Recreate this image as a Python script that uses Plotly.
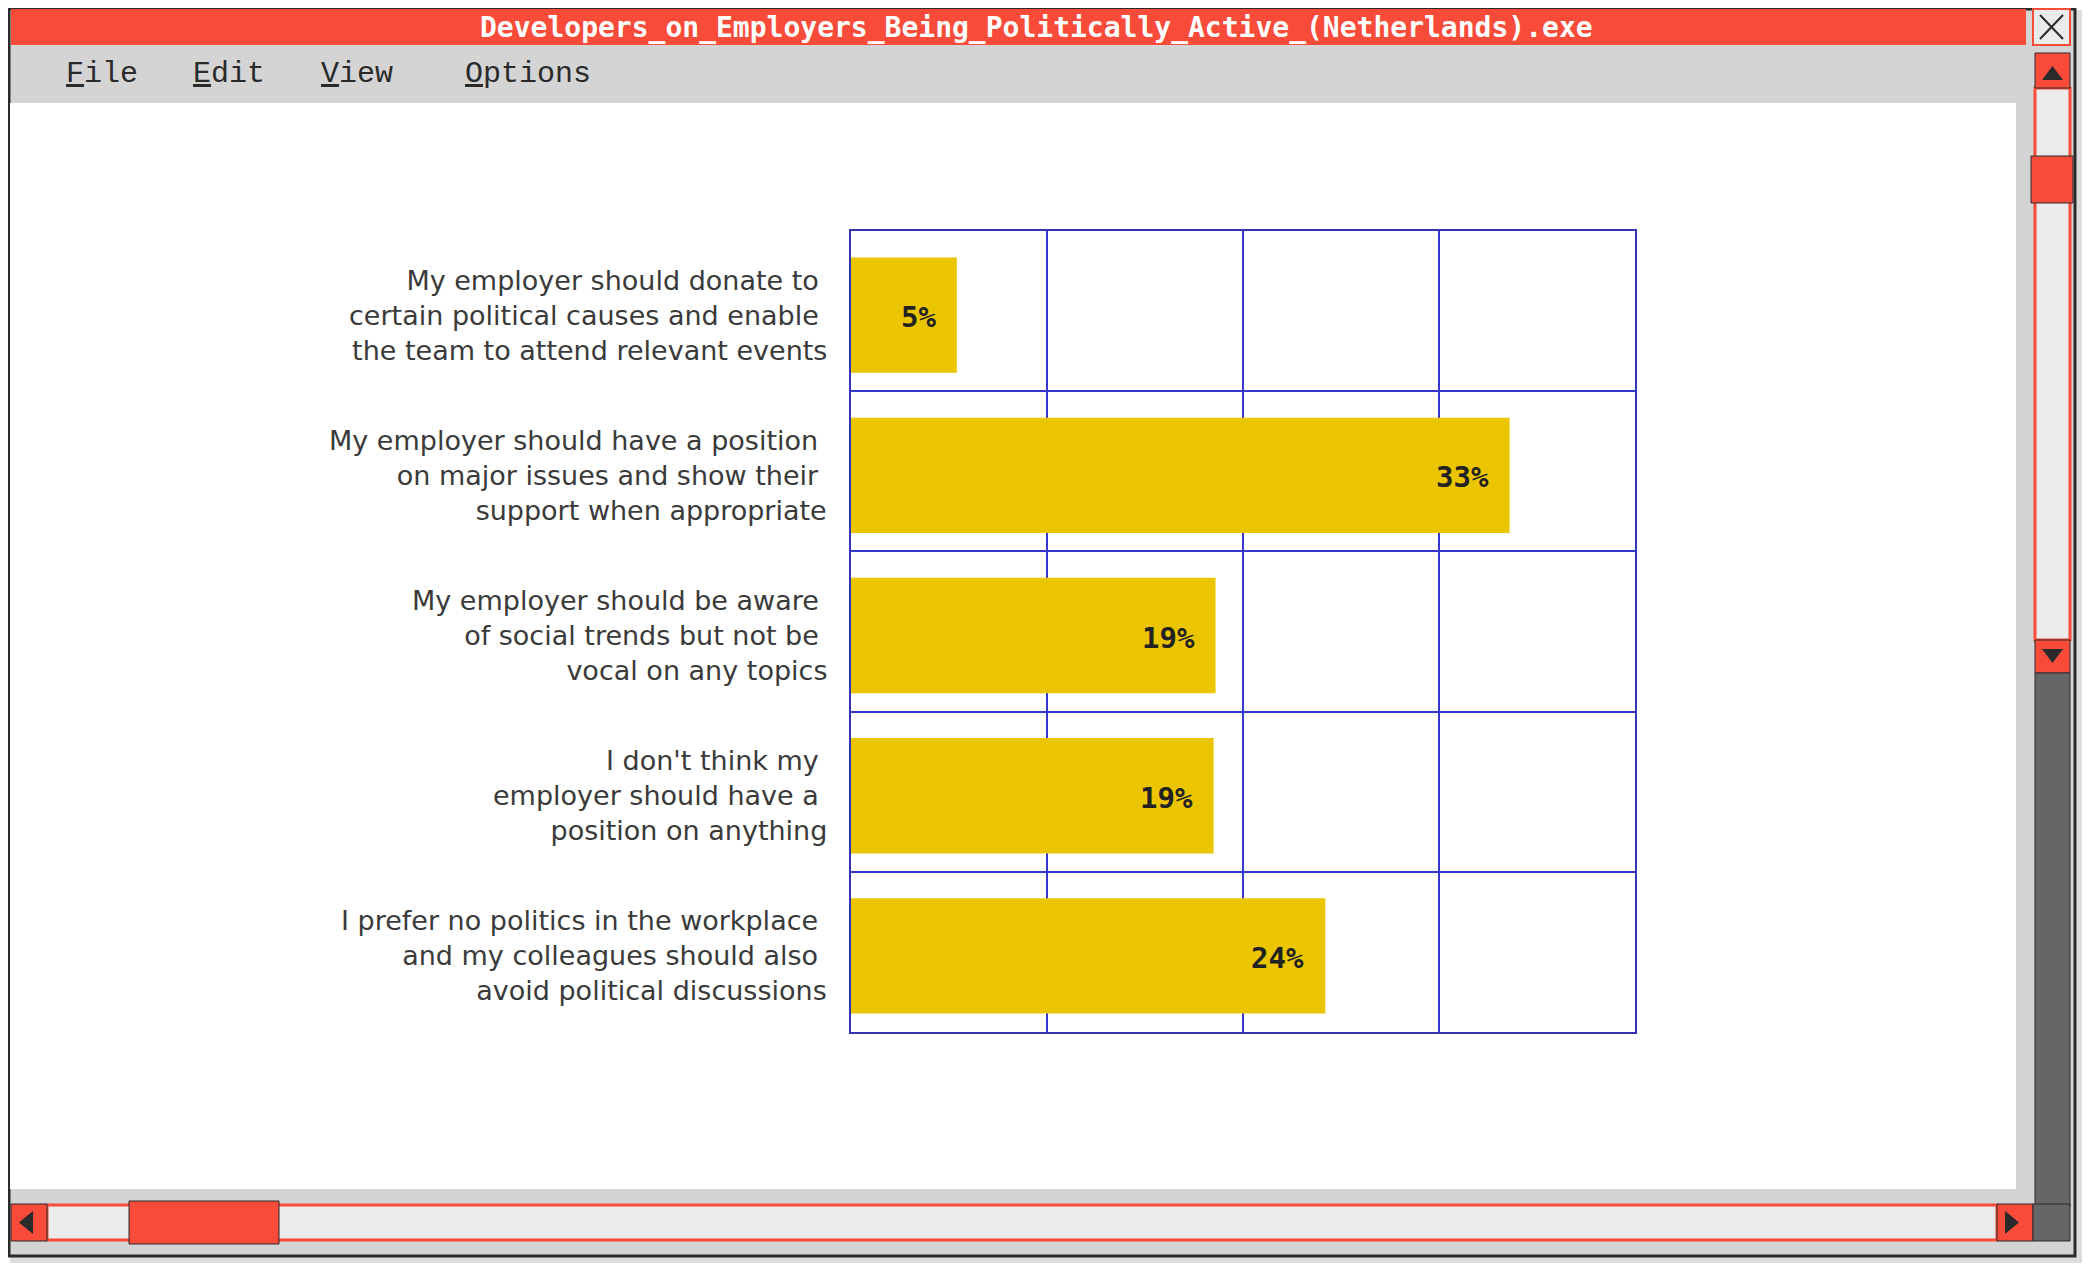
import plotly.graph_objects as go

W, H = 2090, 1265
OFF = 8  # the page body adds an 8px margin, shift everything back by it

# survey answers, top to bottom
answers = [
    'My employer should donate to <br>certain political causes and enable <br>the team to attend relevant events',
    'My employer should have a position <br>on major issues and show their <br>support when appropriate',
    'My employer should be aware <br>of social trends but not be <br>vocal on any topics',
    "I don't think my <br>employer should have a <br>position on anything",
    'I prefer no politics in the workplace <br>and my colleagues should also <br>avoid political discussions',
]
shares = [5.4, 33.6, 18.6, 18.5, 24.2]
share_labels = ['5%', '33%', '19%', '19%', '24%']

window_title = 'Developers_on_Employers_Being_Politically_Active_(Netherlands).exe'
menu_items = ['File', 'Edit', 'View', 'Options']
menu_x = [64, 191, 319, 463]

RED = '#F84B3A'
DARK = '#2a2a2a'
BLUE = '#3636CF'


def px(x, y):
    return (x - OFF) / W, 1 - (y - OFF) / H


def rect(x0, y0, x1, y1, fill, line=None, width=1, layer='above'):
    a, b = px(x0, y1)
    c, d = px(x1, y0)
    return dict(type='rect', xref='paper', yref='paper', x0=a, y0=b, x1=c, y1=d,
                fillcolor=fill, layer=layer,
                line=dict(color=line or fill, width=width if line else 0))


def tri(pts, fill=DARK):
    path = 'M ' + ' L '.join('%f,%f' % px(x, y) for x, y in pts) + ' Z'
    return dict(type='path', xref='paper', yref='paper', path=path,
                fillcolor=fill, line=dict(width=0), layer='above')


def seg(x0, y0, x1, y1, color=DARK, width=2):
    a, b = px(x0, y0)
    c, d = px(x1, y1)
    return dict(type='line', xref='paper', yref='paper', x0=a, y0=b, x1=c, y1=d,
                line=dict(color=color, width=width), layer='above')


shapes = [
    # window body
    rect(10, 10, 2084, 1263, '#DCDCDC', layer='below'),
    rect(9, 9, 2075, 1256, '#D4D4D4', line=DARK, width=3, layer='below'),
    rect(11, 9, 2026, 45, RED, layer='below'),
    rect(10, 103, 2016, 1189, 'white', layer='below'),
    # close button
    rect(2033, 9, 2070, 45, '#EBEBEB', line=RED, width=2),
    seg(2040, 15, 2063, 39, width=2),
    seg(2063, 15, 2040, 39, width=2),
    # right scrollbar
    rect(2035, 88, 2070, 640, '#EBEBEB', line=RED, width=3),
    rect(2035, 53, 2070, 88, RED, line=DARK),
    tri([(2042, 80), (2063, 80), (2052.5, 66)]),
    rect(2031, 156, 2073, 203, RED, line=DARK),
    rect(2035, 640, 2070, 673, RED, line=DARK),
    tri([(2042, 649), (2063, 649), (2052.5, 663)]),
    rect(2035, 673, 2070, 1207, '#666666', line=DARK),
    # bottom scrollbar
    rect(47, 1205, 1997, 1240, '#EBEBEB', line=RED, width=3),
    rect(11, 1204, 47, 1241, RED, line=DARK),
    tri([(33, 1211), (33, 1234), (19, 1222.5)]),
    rect(129, 1201, 279, 1244, RED, line=DARK),
    rect(1997, 1204, 2033, 1241, RED, line=DARK),
    tri([(2005, 1211), (2005, 1234), (2019, 1222.5)]),
    rect(2033, 1204, 2070, 1241, '#666666', line=DARK),
]

annotations = [
    dict(text='<b>%s</b>' % window_title, xref='paper', yref='paper',
         x=px(1036, 0)[0], y=px(0, 27)[1], xanchor='center', yanchor='middle',
         showarrow=False, font=dict(family='DejaVu Sans Mono', size=28, color='white')),
]
for name, mx in zip(menu_items, menu_x):
    annotations.append(dict(
        text='<u>%s</u>%s' % (name[0], name[1:]), xref='paper', yref='paper',
        x=px(mx, 0)[0], y=px(0, 74)[1], xanchor='left', yanchor='middle',
        showarrow=False, font=dict(family='Liberation Mono', size=30, color=DARK)))

for ans, val, lab in zip(answers, shares, share_labels):
    # category text to the left of the plot
    annotations.append(dict(
        text=ans, x=px(829, 0)[0], y=ans, xref='paper', yref='y',
        xanchor='right', yanchor='middle', align='right', yshift=-4,
        showarrow=False,
        font=dict(family='DejaVu Sans', size=27, color='#3a3a3a')))
    # value labels sit inside the bar ends
    annotations.append(dict(
        text='<b>%s</b>' % lab, x=val, y=ans, xref='x', yref='y',
        xanchor='right', yanchor='middle', xshift=-19, yshift=-6, showarrow=False,
        font=dict(family='DejaVu Sans Mono', size=29, color='#222222')))

fig = go.Figure(go.Bar(
    x=shares, y=answers, orientation='h',
    width=0.72, offset=-0.335,
    marker=dict(color='#EBC500', line=dict(width=0)),
    hoverinfo='skip',
))

fig.update_layout(
    width=W, height=H,
    margin=dict(l=0, r=0, t=0, b=0),
    paper_bgcolor='white',
    plot_bgcolor='white',
    showlegend=False,
    shapes=shapes,
    annotations=annotations,
    xaxis=dict(
        domain=[px(851, 0)[0], px(1635, 0)[0]],
        range=[0, 40], dtick=10,
        showgrid=True, gridcolor=BLUE, gridwidth=1.6,
        showline=True, linecolor='#3434B0', linewidth=2, mirror=True,
        zeroline=False, showticklabels=False, ticks='',
        fixedrange=True,
    ),
    yaxis=dict(
        domain=[px(0, 1032)[1], px(0, 231)[1]],
        type='category', autorange='reversed',
        tickson='boundaries',
        showgrid=True, gridcolor=BLUE, gridwidth=1.6,
        showline=True, linecolor='#3434B0', linewidth=2, mirror=True,
        ticks='', showticklabels=False,
        fixedrange=True,
    ),
)

fig.write_html('out.html', config={'displayModeBar': False})
